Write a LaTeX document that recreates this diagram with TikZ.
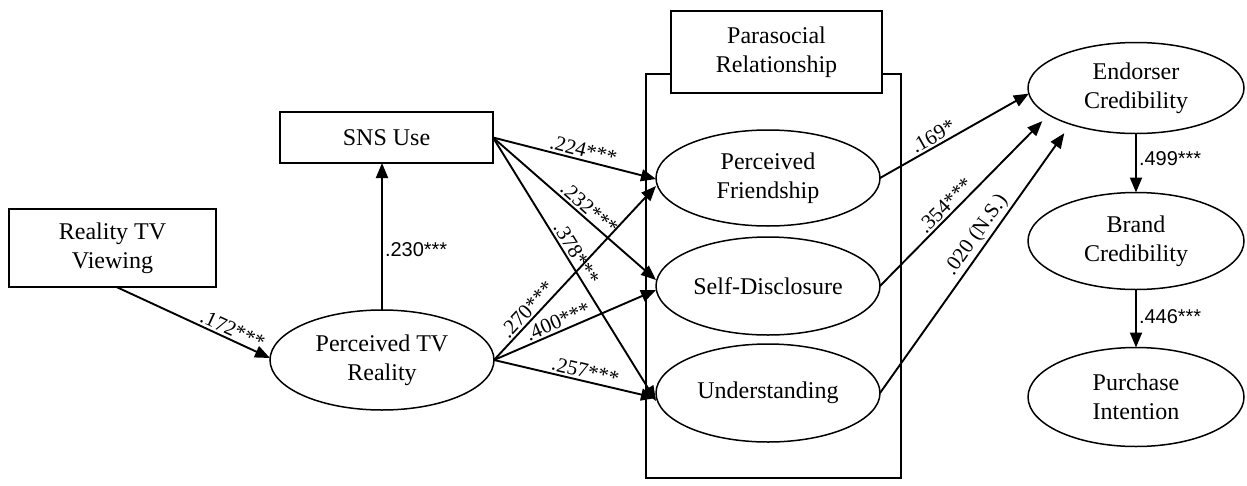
\documentclass[tikz,border=0pt]{standalone}
\usepackage{fontspec}
\setmainfont{Liberation Serif}
\newfontfamily\labsans{Liberation Sans}
\usetikzlibrary{arrows.meta,shapes.geometric,calc}
\begin{document}
\begin{tikzpicture}[x=1pt,y=-1pt,
  every node/.style={inner sep=0pt, outer sep=0pt},
  box/.style={draw, line width=1.6pt, rectangle, align=center, font=\fontsize{24}{29}\selectfont},
  lat/.style={draw, line width=1.5pt, ellipse, align=center, font=\fontsize{24}{29}\selectfont},
  pathline/.style={line width=1.9pt, -{Triangle[length=15pt,width=12pt]}},
  coef/.style={font=\fontsize{21}{21}\selectfont, sloped, above, inner sep=3pt},
  scoef/.style={font=\labsans\fontsize{20}{20}\selectfont, right, inner sep=3pt}]
\useasboundingbox (0,0) rectangle (1247,485);

% nodes
\node[box, minimum width=207pt, minimum height=78pt] (rtv) at (112.5,248) {Reality TV\\Viewing};
\node[lat, minimum width=224pt, minimum height=100pt] (ptr) at (382,360) {Perceived TV\\Reality};
\node[box, minimum width=213pt, minimum height=51pt] (sns) at (386.5,137.5) {SNS Use};
\node[draw, line width=1.6pt, minimum width=255pt, minimum height=404pt] (frame) at (773.5,276) {};
\node[box, fill=white, minimum width=211pt, minimum height=82pt] (prh) at (776.5,52) {Parasocial\\Relationship};
\node[lat, minimum width=224pt, minimum height=96pt] (pf) at (768,178) {Perceived\\Friendship};
\node[lat, minimum width=224pt, minimum height=98pt] (sd) at (768,286) {Self-Disclosure};
\node[lat, minimum width=224pt, minimum height=98pt] (un) at (768,393) {Understanding};
\node[lat, minimum width=216pt, minimum height=91pt] (ec) at (1136,88) {Endorser\\Credibility};
\node[lat, minimum width=216pt, minimum height=97pt] (bc) at (1136,241) {Brand\\Credibility};
\node[lat, minimum width=216pt, minimum height=99pt] (pi) at (1136,397) {Purchase\\Intention};

% left paths
\draw[pathline] ([xshift=4pt]rtv.south) -- node[coef, pos=0.73]{.172***} ([yshift=2pt]ptr.west);
\draw[pathline] (ptr.north) -- node[scoef, pos=0.41]{.230***} (ptr.north |- sns.south);

% SNS -> parasocial
\draw[pathline] (sns.east) -- node[coef, pos=0.54]{.224***} ([yshift=-1pt]pf.west);
\draw[pathline] (sns.east) -- node[coef, pos=0.55]{.232***} ([yshift=6pt]sd.west);
\draw[pathline] (sns.east) -- node[coef, pos=0.46]{.378***} ([yshift=-8pt]un.west);

% PTR -> parasocial
\draw[pathline] (ptr.east) -- node[coef, pos=0.25]{.270***} ([yshift=-8pt]pf.west);
\draw[pathline] (ptr.east) -- node[coef, pos=0.42]{.400***} ([yshift=-4pt]sd.west);
\draw[pathline] (ptr.east) -- node[coef, pos=0.55]{.257***} ([yshift=-5pt]un.west);

% parasocial -> endorser
\draw[pathline] (pf.east) -- node[coef, pos=0.39]{.169*} (ec.183);
\draw[pathline, shorten >=9pt] (sd.east) -- node[coef, pos=0.43]{.354***} (ec.197);
\draw[pathline, shorten >=11pt] (un.east) -- node[coef, pos=0.56]{.020 (N.S.)} (ec.209);

% right chain
\draw[pathline] (ec.south) -- node[scoef, pos=0.42]{.499***} (bc.north);
\draw[pathline] (bc.south) -- node[scoef, pos=0.47]{.446***} (pi.north);
\end{tikzpicture}
\end{document}
